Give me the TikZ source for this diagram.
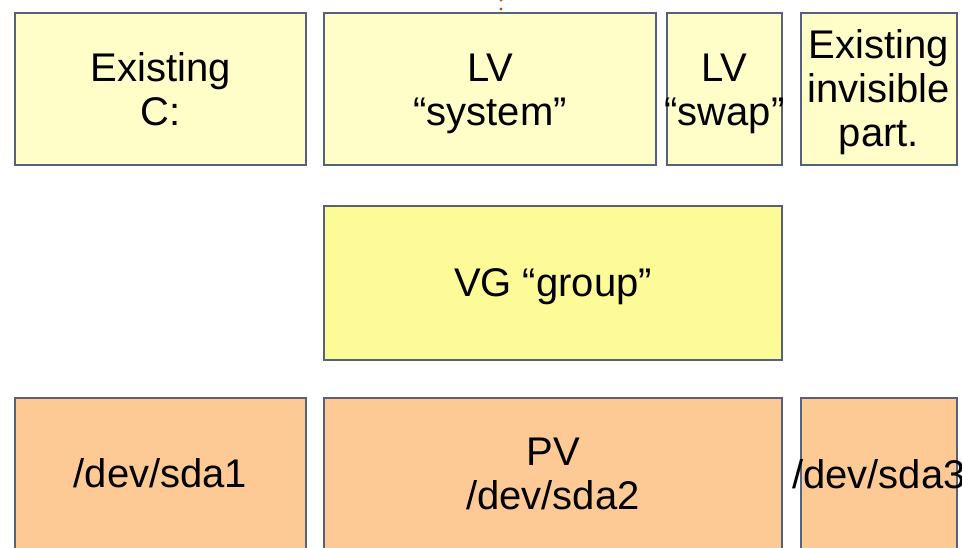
\documentclass[tikz,border=0pt]{standalone}
\usepackage{fontspec}
\setmainfont{Liberation Sans}
\definecolor{edge}{HTML}{55627A}
\definecolor{paleyellow}{HTML}{FFFDC8}
\definecolor{vgyellow}{HTML}{FDFA98}
\definecolor{pvorange}{HTML}{FDC994}
\definecolor{reddot}{HTML}{D04010}
\begin{document}
\begin{tikzpicture}[x=1pt,y=-1pt,
  blk/.style={draw=edge,line width=2pt,rectangle,inner sep=0pt,align=center,
    font=\fontsize{40}{44}\selectfont},
  lvbox/.style={blk,fill=paleyellow},
  vgbox/.style={blk,fill=vgyellow},
  pvbox/.style={blk,fill=pvorange},
  lbl/.style={inner sep=0pt,align=center,font=\fontsize{40}{44}\selectfont}]
\useasboundingbox (0,0) rectangle (962,547);
\begin{scope}
\clip (0,0) rectangle (962,547);
% top row
\node[lvbox,minimum width=291pt,minimum height=152pt] (exc) at (160.5,89) {Existing\\C:};
\node[lvbox,minimum width=332pt,minimum height=152pt] (lvsys) at (490,89) {};
\node[lbl,yshift=-5pt] (lvsyst) at (lvsys.center) {LV\\“system”};
\node[lvbox,minimum width=115pt,minimum height=152pt] (lvswap) at (724.5,89) {};
\node[lbl,yshift=-5pt] (lvswapt) at (lvswap.center) {LV\\“swap”};
\node[lvbox,minimum width=156pt,minimum height=152pt] (inv) at (879,89) {};
\node[lbl,yshift=-3pt] (invt) at (inv.center) {Existing\\invisible\\part.};
% middle
\node[vgbox,minimum width=458pt,minimum height=154pt] (vg) at (553,283) {};
\node[lbl,yshift=-4pt] (vgt) at (vg.center) {VG “group”};
% bottom row
\node[pvbox,minimum width=291pt,minimum height=152pt] (sda1) at (160.5,474) {};
\node[lbl,yshift=1pt] (sda1t) at (sda1.center) {/dev/sda1};
\node[pvbox,minimum width=458pt,minimum height=152pt] (pv) at (553,474) {PV\\/dev/sda2};
\node[pvbox,minimum width=156pt,minimum height=152pt] (sda3) at (879,474) {};
\node[lbl] (sda3t) at (sda3.center) {/dev/sda3};
% small red marks at top
\coordinate (r1) at (501,0);
\coordinate (r2) at (501,9);
\fill[reddot] (r1) circle (1.6pt);
\fill[reddot] (r2) circle (1.6pt);
\end{scope}
\end{tikzpicture}
\end{document}
